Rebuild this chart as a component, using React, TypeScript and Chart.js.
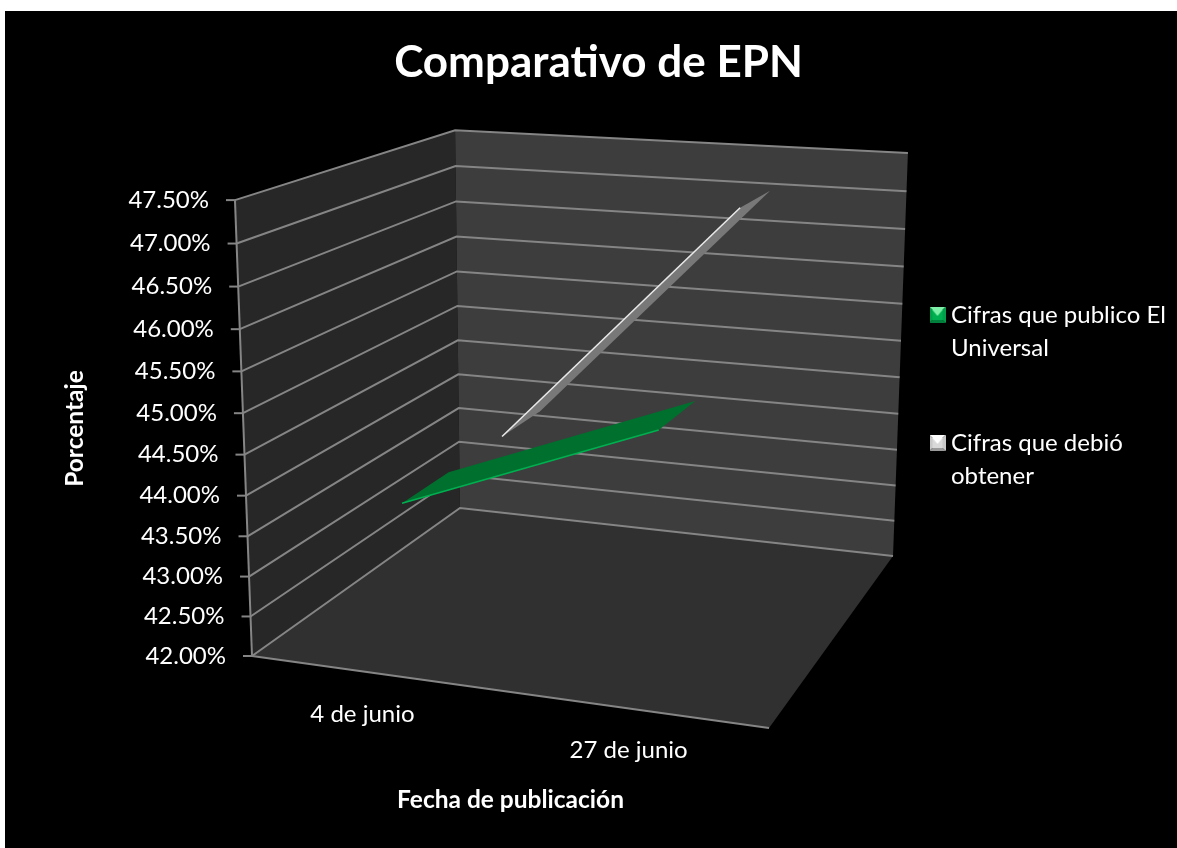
import React, { useEffect, useRef } from "react";
import { Chart, registerables } from "chart.js";

Chart.register(...registerables);

const chartTitle = "Comparativo de EPN";
const categories = ["4 de junio", "27 de junio"];
const seriesNames = ["Cifras que publico El Universal", "Cifras que debió obtener"];
const legendLines = [["Cifras que publico El", "Universal"], ["Cifras que debió", "obtener"]];
const universalValues = [43.82, 45.02];
const debioValues = [43.82, 47.05];
const yMin = 42;
const yMax = 47.5;
const yStep = 0.5;
const xTitle = "Fecha de publicación";
const yTitle = "Porcentaje";

const FONT = "Lato, Carlito, Calibri, sans-serif";

// Perspective of the box: unit cube (u across, v up, w into the page) to canvas pixels.
const O = { x: 252, y: 656 };
const AU = { x: 456.2, y: 14.4 };
const AV = { x: -28.9, y: -466 };
const AW = { x: 307.6, y: -38 };
const PU = -0.0791;
const PV = -0.0505;
const PW = 0.2166;
const project = (u: number, v: number, w: number) => {
  const d = 1 + PU * u + PV * v + PW * w;
  return {
    x: (O.x + AU.x * u + AV.x * v + AW.x * w) / d,
    y: (O.y + AU.y * u + AV.y * v + AW.y * w) / d,
  };
};

const polygon = (ctx: CanvasRenderingContext2D, pts: { x: number; y: number }[], fill: string) => {
  ctx.beginPath();
  pts.forEach((p, i) => (i ? ctx.lineTo(p.x, p.y) : ctx.moveTo(p.x, p.y)));
  ctx.closePath();
  ctx.fillStyle = fill;
  ctx.fill();
};

const polyline = (ctx: CanvasRenderingContext2D, pts: { x: number; y: number }[], stroke: string, width: number) => {
  ctx.beginPath();
  pts.forEach((p, i) => (i ? ctx.lineTo(p.x, p.y) : ctx.moveTo(p.x, p.y)));
  ctx.strokeStyle = stroke;
  ctx.lineWidth = width;
  ctx.stroke();
};

const legendKey = (top: string, side: string, bottom: string, centre: string) => {
  const c = document.createElement("canvas");
  c.width = 16;
  c.height = 16;
  const g = c.getContext("2d") as CanvasRenderingContext2D;
  const s = 16;
  const faces: [number[][], string][] = [
    [[[0, 0], [s, 0], [s / 2, s / 2]], top],
    [[[0, 0], [0, s], [s / 2, s / 2]], side],
    [[[s, 0], [s, s], [s / 2, s / 2]], side],
    [[[0, s], [s, s], [s / 2, s / 2]], bottom],
  ];
  faces.forEach(([p, col]) => polygon(g, p.map(([x, y]) => ({ x, y })), col));
  polygon(g, [{ x: 3, y: 3 }, { x: 13, y: 3 }, { x: 13, y: 13 }, { x: 3, y: 13 }], centre);
  polygon(g, [{ x: 3, y: 3 }, { x: 13, y: 3 }, { x: 8, y: 9 }], top);
  return c;
};

const seriesStyle = [
  { face: "#00702e", edge: "#00b050" },
  { face: "#787878", edge: "#e8e8e8" },
];
const DEPTH = [0.25, 0.75];
const HALF = 0.11;
const GRID = "#858585";
const GRID_W = 2;

const boxPlugin = {
  id: "box3d",
  afterLayout(chart: any) {
    const l = chart.legend;
    if (l) {
      l.left = 874;
      l.right = 1177;
      l.top = 241;
      l.bottom = 848;
      l.width = 303;
      l.height = 607;
    }
  },
  beforeDraw(chart: any) {
    const ctx = chart.ctx as CanvasRenderingContext2D;
    ctx.save();
    ctx.fillStyle = "#ffffff";
    ctx.fillRect(0, 0, chart.width, chart.height);
    ctx.fillStyle = "#000000";
    ctx.fillRect(5, 11, chart.width - 5, chart.height - 11);
    ctx.restore();
  },
  beforeDatasetsDraw(chart: any) {
    const ctx = chart.ctx as CanvasRenderingContext2D;
    const ys = chart.scales.y;
    const xs = chart.scales.x;
    const toV = (value: number) => (ys.bottom - ys.getPixelForValue(value)) / (ys.bottom - ys.top);
    ctx.save();
    polygon(ctx, [project(0, 0, 0), project(0, 1, 0), project(0, 1, 1), project(0, 0, 1)], "#272727");
    polygon(ctx, [project(0, 0, 1), project(0, 1, 1), project(1, 1, 1), project(1, 0, 1)], "#3d3d3d");
    polygon(ctx, [project(0, 0, 0), project(0, 0, 1), project(1, 0, 1), project(1, 0, 0)], "#303030");

    ys.ticks.forEach((t: any) => {
      const v = toV(t.value);
      polyline(ctx, [project(0, v, 0), project(0, v, 1), project(1, v, 1)], GRID, GRID_W);
      const p = project(0, v, 0);
      polyline(ctx, [{ x: p.x - 9, y: p.y }, p], GRID, GRID_W);
      ctx.font = `24px ${FONT}`;
      ctx.fillStyle = "#ffffff";
      ctx.textAlign = "right";
      ctx.textBaseline = "middle";
      ctx.fillText(t.label, p.x - 26, p.y);
    });
    polyline(ctx, [project(0, 0, 0), project(0, 1, 0)], GRID, GRID_W);
    polyline(ctx, [project(0, 0, 0), project(1, 0, 0)], GRID, GRID_W);

    xs.ticks.forEach((t: any, i: number) => {
      const u = (xs.getPixelForTick(i) - xs.left) / (xs.right - xs.left);
      const p = project(u, 0, 0);
      ctx.font = `24px ${FONT}`;
      ctx.fillStyle = "#ffffff";
      ctx.textAlign = "center";
      ctx.textBaseline = "middle";
      ctx.fillText(String(t.label), p.x - 15 + 16 * u, p.y + 41.5);
    });
    ctx.restore();
  },
  afterDatasetsDraw(chart: any) {
    const ctx = chart.ctx as CanvasRenderingContext2D;
    const ys = chart.scales.y;
    const xs = chart.scales.x;
    ctx.save();
    [1, 0].forEach((i) => {
      const pts = chart.getDatasetMeta(i).data;
      const uv = pts.map((el: any) => ({
        u: (el.x - xs.left) / (xs.right - xs.left),
        v: (ys.bottom - el.y) / (ys.bottom - ys.top),
      }));
      const w0 = DEPTH[i] - HALF;
      const w1 = DEPTH[i] + HALF;
      const front = uv.map((p: any) => project(p.u, p.v, w0));
      const back = uv.map((p: any) => project(p.u, p.v, w1));
      polygon(ctx, [...front, ...back.slice().reverse()], seriesStyle[i].face);
      polyline(ctx, front, seriesStyle[i].edge, 1.6);
    });
    ctx.restore();
  },
};

export default function App() {
  const ref = useRef<HTMLCanvasElement>(null);
  useEffect(() => {
    if (!ref.current) return;
    const keys = [
      legendKey("#7ff0a8", "#00a04a", "#00803c", "#00b050"),
      legendKey("#ffffff", "#c8c8c8", "#9a9a9a", "#d9d9d9"),
    ];
    const chart = new Chart(ref.current, {
      type: "line",
      data: {
        labels: categories,
        datasets: [
          { label: seriesNames[0], data: universalValues, showLine: false, pointRadius: 0, borderColor: "#00b050", backgroundColor: "#00b050" },
          { label: seriesNames[1], data: debioValues, showLine: false, pointRadius: 0, borderColor: "#d9d9d9", backgroundColor: "#d9d9d9" },
        ],
      },
      options: {
        responsive: false,
        animation: false,
        layout: { padding: { left: 20, right: 0, top: 0, bottom: 0 } },
        plugins: {
          title: {
            display: true,
            text: chartTitle,
            color: "#ffffff",
            font: { family: FONT, size: 44, weight: "bold", lineHeight: 1.2 },
            padding: { top: 36, bottom: 112.2 },
          },
          legend: {
            position: "chartArea",
            align: "start",
            labels: {
              color: "#ffffff",
              font: { family: FONT, size: 24, lineHeight: 33 / 24 },
              padding: 62,
              usePointStyle: true,
              pointStyleWidth: 3,
              generateLabels: () =>
                legendLines.map((text, i) => ({
                  text,
                  fontColor: "#ffffff",
                  pointStyle: keys[i],
                  datasetIndex: i,
                  lineWidth: 0,
                  fillStyle: "#000",
                  strokeStyle: "#000",
                  hidden: false,
                })) as any,
            },
          },
          tooltip: { enabled: false },
        },
        scales: {
          x: {
            offset: true,
            grid: { display: false },
            border: { display: false },
            ticks: { display: false },
            title: {
              display: true,
              text: xTitle,
              color: "#ffffff",
              font: { family: FONT, size: 24.5, weight: "bold", lineHeight: 1.2 },
              padding: { top: 0, bottom: 33 },
            },
            afterFit(s: any) {
              s.height = 848 - 656;
            },
          },
          y: {
            min: yMin,
            max: yMax,
            grid: { display: false },
            border: { display: false },
            ticks: { display: false, stepSize: yStep, callback: (v: any) => Number(v).toFixed(2) + "%" },
            title: {
              display: true,
              text: yTitle,
              color: "#ffffff",
              font: { family: FONT, size: 24.5, weight: "bold", lineHeight: 1.2 },
              padding: { top: 40, bottom: 0 },
            },
            afterFit(s: any) {
              s.width = 232;
            },
          },
          y2: {
            position: "right",
            display: true,
            min: yMin,
            max: yMax,
            grid: { display: false },
            border: { display: false },
            ticks: { display: false },
            afterFit(s: any) {
              s.width = 1177 - 769;
            },
          },
        },
      } as any,
      plugins: [boxPlugin as any],
    });
    return () => chart.destroy();
  }, []);
  return (
    <div style={{ position: "fixed", left: 0, top: 0, width: 1177, height: 848 }}>
      <canvas ref={ref} width={1177} height={848} style={{ display: "block" }} />
    </div>
  );
}
